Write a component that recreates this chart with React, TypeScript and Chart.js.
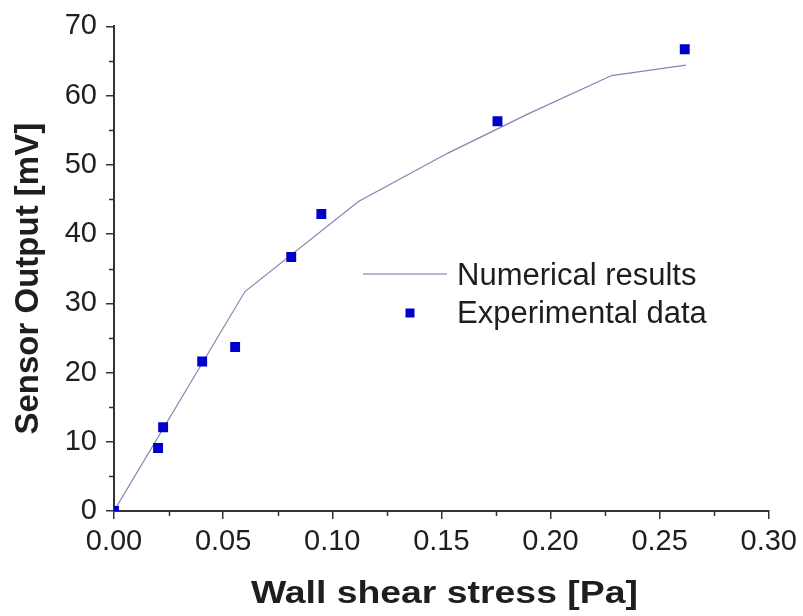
import React, { useEffect, useRef } from 'react';
import { Chart, registerables } from 'chart.js';

Chart.register(...registerables);

// ---- Data ----
const numericalX = [0, 0.06, 0.112, 0.153, 0.19, 0.228, 0.262];
const numericalY = [0, 31.7, 44.7, 51.7, 57.4, 62.9, 64.4];

const experimentalX = [0, 0.0202, 0.0225, 0.0404, 0.0555, 0.0812, 0.095, 0.1757, 0.2615];
const experimentalY = [0, 9.1, 12.1, 21.6, 23.7, 36.7, 42.9, 56.3, 66.7];

const seriesLabels = ['Numerical results', 'Experimental data'];
const xTitle = 'Wall shear stress [Pa]';
const yTitle = 'Sensor Output [mV]';

const xMin = 0;
const xMax = 0.3;
const xStep = 0.05;
const yMin = 0;
const yMax = 70;
const yStep = 10;

const FONT = "'Liberation Sans', Arial, sans-serif";
const TEXT = '#1e1e1e';
const AXIS = '#333333';
const LINE_COLOR = '#8585b5';
const MARKER_COLOR = '#0000cc';

const decorPlugin = {
  id: 'decor',
  afterDraw(chart: any) {
    const ctx: CanvasRenderingContext2D = chart.ctx;
    const xs = chart.scales.x;
    const ys = chart.scales.y;
    const area = chart.chartArea;
    ctx.save();
    // minor ticks
    ctx.strokeStyle = AXIS;
    ctx.lineWidth = 1.5;
    ctx.beginPath();
    for (let v = xMin + xStep / 2; v < xMax; v += xStep) {
      const px = Math.round(xs.getPixelForValue(v)) + 0.5;
      ctx.moveTo(px, area.bottom);
      ctx.lineTo(px, area.bottom + 5);
    }
    for (let v = yMin + yStep / 2; v < yMax; v += yStep) {
      const py = Math.round(ys.getPixelForValue(v)) + 0.5;
      ctx.moveTo(area.left, py);
      ctx.lineTo(area.left - 5, py);
    }
    ctx.stroke();

    // legend
    const ds0 = chart.data.datasets[0];
    const ds1 = chart.data.datasets[1];
    ctx.strokeStyle = '#6f6f9c';
    ctx.lineWidth = 1.2;
    ctx.beginPath();
    ctx.moveTo(363, 274);
    ctx.lineTo(447, 274);
    ctx.stroke();
    ctx.fillStyle = ds1.backgroundColor;
    ctx.fillRect(405.5, 308.5, 9, 9);
    ctx.fillStyle = TEXT;
    ctx.font = `31px ${FONT}`;
    ctx.textAlign = 'left';
    ctx.textBaseline = 'alphabetic';
    ctx.fillText(ds0.label, 457, 285);
    ctx.fillText(ds1.label, 457, 323);

    // x title
    ctx.font = `bold 32px ${FONT}`;
    const w = ctx.measureText(xTitle).width;
    const sx = 387 / w;
    ctx.save();
    ctx.translate((area.left + area.right) / 2 + 3, 603);
    ctx.scale(sx, 1);
    ctx.textAlign = 'center';
    ctx.fillText(xTitle, 0, 0);
    ctx.restore();

    // y title
    ctx.font = `bold 33px ${FONT}`;
    ctx.save();
    ctx.translate(38, (area.top + area.bottom) / 2 + 10);
    ctx.rotate(-Math.PI / 2);
    ctx.textAlign = 'center';
    ctx.fillText(yTitle, 0, 0);
    ctx.restore();

    ctx.restore();
  },
};

export default function App() {
  const ref = useRef<HTMLCanvasElement | null>(null);

  useEffect(() => {
    if (!ref.current) return;
    const chart = new Chart(ref.current, {
      type: 'scatter',
      data: {
        datasets: [
          {
            label: seriesLabels[0],
            data: numericalX.map((x, i) => ({ x, y: numericalY[i] })),
            showLine: true,
            borderColor: LINE_COLOR,
            backgroundColor: LINE_COLOR,
            borderWidth: 1.2,
            pointRadius: 0,
            tension: 0,
            order: 1,
          },
          {
            label: seriesLabels[1],
            data: experimentalX.map((x, i) => ({ x, y: experimentalY[i] })),
            showLine: false,
            pointStyle: 'rect',
            pointRadius: 7,
            pointBorderWidth: 0,
            borderWidth: 0,
            backgroundColor: MARKER_COLOR,
            borderColor: MARKER_COLOR,
            clip: 0,
            order: 0,
          },
        ],
      },
      options: {
        animation: false,
        responsive: false,
        devicePixelRatio: 1,
        layout: { padding: { top: 22, right: 34, left: 0, bottom: 0 } },
        plugins: {
          legend: { display: false },
          tooltip: { enabled: false },
        },
        scales: {
          x: {
            type: 'linear',
            min: xMin,
            max: xMax,
            afterFit: (s: any) => {
              s.height = 105;
            },
            ticks: {
              stepSize: xStep,
              padding: 6,
              color: TEXT,
              font: { family: FONT, size: 29 },
              callback: (v: any) => Number(v).toFixed(2),
            },
            grid: {
              drawOnChartArea: false,
              drawTicks: true,
              tickLength: 8,
              color: AXIS,
              lineWidth: 1.5,
            },
            border: { display: true, color: AXIS, width: 2 },
          },
          y: {
            type: 'linear',
            min: yMin,
            max: yMax,
            afterFit: (s: any) => {
              s.width = 114;
            },
            ticks: {
              stepSize: yStep,
              padding: 9,
              color: TEXT,
              font: { family: FONT, size: 29 },
            },
            grid: {
              drawOnChartArea: false,
              drawTicks: true,
              tickLength: 8,
              color: AXIS,
              lineWidth: 1.5,
            },
            border: { display: true, color: AXIS, width: 2 },
          },
        },
      },
      plugins: [decorPlugin],
    });
    return () => chart.destroy();
  }, []);

  return (
    <div style={{ position: 'absolute', left: 0, top: 0, width: 803, height: 616, background: '#fff' }}>
      <canvas ref={ref} width={803} height={616} />
    </div>
  );
}
